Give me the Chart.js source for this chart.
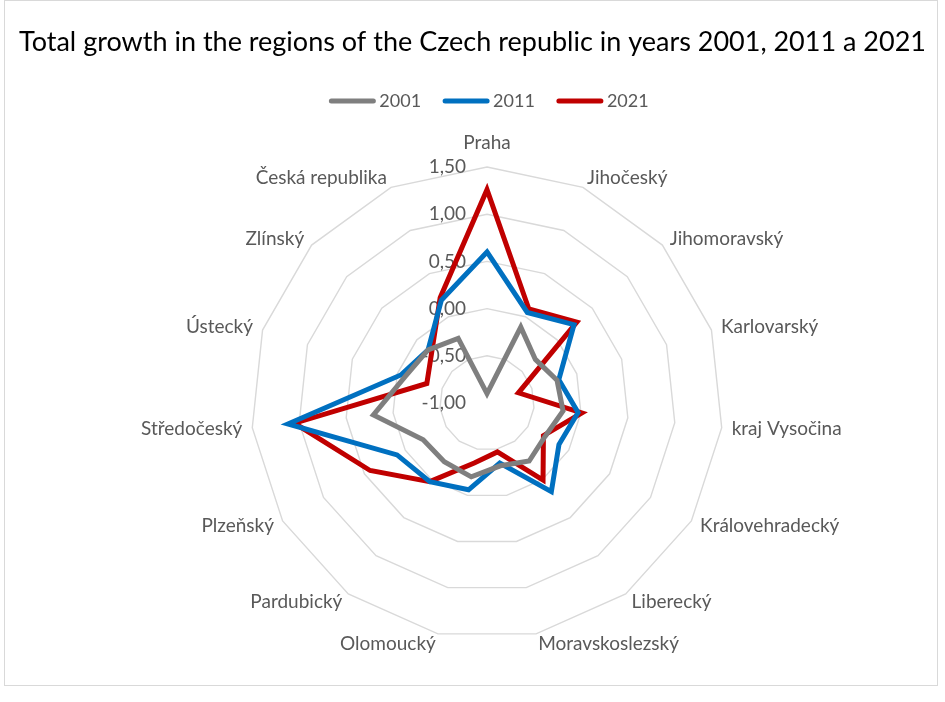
<!DOCTYPE html>
<html>
<head>
<meta charset="utf-8">
<script src="https://cdn.jsdelivr.net/npm/chart.js@4.4.1/dist/chart.umd.min.js"></script>
<style>
  html, body { margin: 0; padding: 0; background: #ffffff; }
  #wrap { position: absolute; left: 0; top: 0; width: 945px; height: 702px; }
  #frame { position: absolute; left: 4px; top: 0; width: 932px; height: 684px; border: 1px solid #d9d9d9; }
  canvas { position: absolute; left: 0; top: 0; }
</style>
</head>
<body>
<div id="wrap">
  <div id="frame"></div>
  <canvas id="chart" width="945" height="702"></canvas>
</div>
<script>
// Regions of the Czech Republic, clockwise from the top
const regions = [
  'Praha', 'Jihočeský', 'Jihomoravský', 'Karlovarský', 'kraj Vysočina',
  'Královehradecký', 'Liberecký', 'Moravskoslezský', 'Olomoucký', 'Pardubický',
  'Plzeňský', 'Středočeský', 'Ústecký', 'Zlínský', 'Česká republika'
];

// Total population growth per region
const growth2001 = [-0.90, -0.12, -0.31, -0.22, -0.19, -0.29, -0.24, -0.32, -0.20, -0.23, -0.22, 0.21, -0.09, -0.16, -0.25];
const growth2011 = [0.60, 0.05, 0.24, -0.20, -0.03, -0.12, 0.16, -0.35, -0.06, 0.03, 0.10, 1.12, -0.04, -0.16, 0.19];
const growth2021 = [1.26, 0.09, 0.28, -0.65, 0.01, -0.31, 0.01, -0.47, -0.35, 0.03, 0.43, 1.05, -0.33, -0.21, 0.22];

// Radial axis ticks
const tickValues = [-1.00, -0.50, 0.00, 0.50, 1.00, 1.50];

const FONT = 'Lato';
const TEXT_GREY = '#595959';
const web = { cx: 487, cy: 403, radius: 236 };
const legendBox = { cx: 489, y: 101, line: 44, gap: 6, spacing: 22 };

const formatTick = v => v.toFixed(2).replace('.', ',');

// Fixes the centre and size of the web and draws the category and value labels
const webLayout = {
  id: 'webLayout',
  afterLayout(chart) {
    const s = chart.scales.r;
    s.xCenter = web.cx;
    s.yCenter = web.cy;
    s.drawingArea = web.radius;
  },
  beforeDatasetsDraw(chart) {
    const s = chart.scales.r;
    const ctx = chart.ctx;
    ctx.save();
    ctx.fillStyle = TEXT_GREY;
    ctx.font = '19px ' + FONT;
    ctx.textBaseline = 'middle';
    regions.forEach((name, i) => {
      const p = s.getPointPosition(i, s.drawingArea + 10);
      const sx = Math.sin(s.getIndexAngle(i));
      let y = p.y;
      if (Math.abs(sx) < 0.05) { ctx.textAlign = 'center'; y -= 14; }
      else ctx.textAlign = sx > 0 ? 'left' : 'right';
      ctx.fillText(name, p.x, y);
    });
    ctx.textAlign = 'right';
    tickValues.forEach(v => {
      const y = s.yCenter - s.getDistanceFromCenterForValue(v);
      ctx.fillText(formatTick(v), s.xCenter - 21, y);
    });
    ctx.restore();
  },
  // Legend row: a short line sample followed by the series name
  afterDraw(chart) {
    const ctx = chart.ctx;
    ctx.save();
    ctx.font = '18px ' + FONT;
    ctx.textBaseline = 'middle';
    ctx.textAlign = 'left';
    const items = chart.data.datasets.map(ds => ({
      ds, w: legendBox.line + legendBox.gap + ctx.measureText(ds.label).width
    }));
    const total = items.reduce((a, it) => a + it.w, 0) + legendBox.spacing * (items.length - 1);
    let x = legendBox.cx - total / 2;
    items.forEach(({ ds, w }) => {
      ctx.strokeStyle = ds.borderColor;
      ctx.lineWidth = ds.borderWidth;
      ctx.lineCap = 'round';
      ctx.beginPath();
      ctx.moveTo(x + 2, legendBox.y);
      ctx.lineTo(x + legendBox.line, legendBox.y);
      ctx.stroke();
      ctx.fillStyle = TEXT_GREY;
      ctx.fillText(ds.label, x + legendBox.line + legendBox.gap, legendBox.y);
      x += w + legendBox.spacing;
    });
    ctx.restore();
  }
};

const lineSeries = (label, data, color) => ({
  label, data,
  borderColor: color,
  backgroundColor: color,
  borderWidth: 5,
  borderJoinStyle: 'miter',
  borderCapStyle: 'round',
  fill: false,
  pointRadius: 0,
  pointHoverRadius: 0,
  tension: 0,
  clip: false
});

new Chart(document.getElementById('chart'), {
  type: 'radar',
  data: {
    labels: regions,
    datasets: [
      lineSeries('2001', growth2001, '#7f7f7f'),
      lineSeries('2011', growth2011, '#0070c0'),
      lineSeries('2021', growth2021, '#c00000')
    ]
  },
  options: {
    responsive: false,
    animation: false,
    events: [],
    layout: { padding: 0 },
    scales: {
      r: {
        min: tickValues[0],
        max: tickValues[tickValues.length - 1],
        beginAtZero: false,
        ticks: { display: false, stepSize: 0.5 },
        pointLabels: { display: false },
        angleLines: { display: false },
        grid: { color: '#d9d9d9', lineWidth: 1.4 }
      }
    },
    plugins: {
      title: {
        display: true,
        text: 'Total growth in the regions of the Czech republic in years 2001, 2011 a 2021',
        color: '#000000',
        font: { family: FONT, size: 27, weight: 'normal', lineHeight: 1.2 },
        padding: { top: 26, bottom: 60 }
      },
      legend: { display: false },
      tooltip: { enabled: false }
    }
  },
  plugins: [webLayout]
});
</script>
</body>
</html>
